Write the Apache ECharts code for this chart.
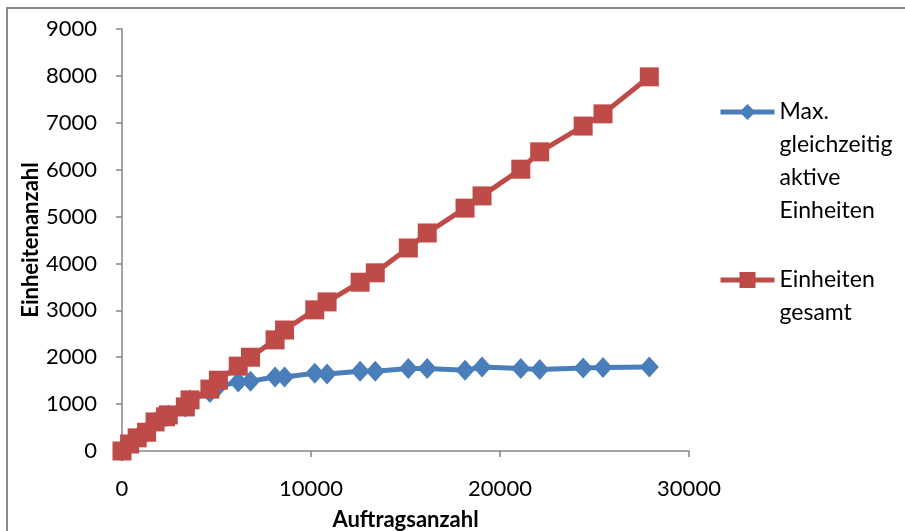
<!DOCTYPE html>
<html>
<head>
<meta charset="utf-8">
<script src="https://cdn.jsdelivr.net/npm/echarts@6/dist/echarts.min.js"></script>
<style>
  html, body { margin: 0; padding: 0; background: #fff; }
  #chart { width: 905px; height: 531px; }
</style>
</head>
<body>
<div id="chart"></div>
<script>
// Auftragsanzahl (x) je Messpunkt
var orders = [0, 400, 800, 1300, 1750, 2300, 2450, 3350, 3600, 4650, 5100, 6150, 6800, 8100, 8600,
  10200, 10850, 12600, 13400, 15150, 16150, 18150, 19050, 21100, 22100, 24400, 25450, 27900];
var activeUnits = [0, 150, 280, 400, 620, 730, 770, 940, 1090, 1250, 1380, 1470, 1490, 1580, 1580,
  1660, 1640, 1700, 1700, 1760, 1760, 1720, 1790, 1760, 1740, 1770, 1780, 1790];
var totalUnits = [0, 150, 280, 400, 620, 730, 770, 940, 1090, 1320, 1510, 1810, 2000, 2370, 2580,
  3010, 3180, 3600, 3800, 4330, 4650, 5180, 5440, 6010, 6380, 6930, 7190, 7980];
var seriesNames = ['Max. gleichzeitig aktive Einheiten', 'Einheiten gesamt'];
var legendLines = [['Max.', 'gleichzeitig', 'aktive', 'Einheiten'], ['Einheiten', 'gesamt']];

function pairs(xs, ys) {
  return xs.map(function (x, i) { return [x, ys[i]]; });
}

var chart = echarts.init(document.getElementById('chart'));
var font = 'Lato';
var axisColor = '#868686';
var lineH = 33;

// legend text is centred on the icon, so pad with empty lines on top
// to put the first text line next to the icon (like Excel)
function legendFor(i, iconY) {
  var lines = legendLines[i];
  var n = lines.length;
  var pad = [];
  for (var k = 0; k < n - 1; k++) pad.push('');
  return {
    data: [seriesNames[i]],
    orient: 'vertical',
    left: 718,
    top: iconY - (2 * n - 1) * lineH / 2,
    padding: 0,
    itemWidth: 54,
    itemHeight: 20,
    itemGap: 0,
    selectedMode: false,
    lineStyle: { width: 5 },
    formatter: function () { return pad.concat(lines).join('\n'); },
    textStyle: {
      fontFamily: font,
      fontSize: 23,
      color: '#000',
      lineHeight: lineH
    }
  };
}

function plain(v) { return String(v); }

var option = {
  animation: false,
  backgroundColor: '#fff',
  graphic: [{
    type: 'rect',
    shape: { x: 7, y: 8, width: 1000, height: 1000 },
    style: { fill: 'none', stroke: '#8a8a8a', lineWidth: 2 },
    silent: true
  }],
  grid: { left: 122, right: 216, top: 29, bottom: 80, outerBoundsMode: 'none' },
  legend: [legendFor(0, 112), legendFor(1, 280)],
  xAxis: {
    type: 'value',
    min: 0,
    max: 30000,
    interval: 10000,
    name: 'Auftragsanzahl',
    nameLocation: 'middle',
    nameGap: 58,
    nameMoveOverlap: false,
    nameTextStyle: { fontFamily: font, fontSize: 22, fontWeight: 'bold', color: '#000' },
    splitLine: { show: false },
    axisLine: { lineStyle: { color: axisColor, width: 1.5 } },
    axisTick: { show: true, length: 6, lineStyle: { color: axisColor, width: 1.5 } },
    axisLabel: { fontFamily: font, fontSize: 22, color: '#000', margin: 27, formatter: plain }
  },
  yAxis: {
    type: 'value',
    min: 0,
    max: 9000,
    interval: 1000,
    name: 'Einheitenanzahl',
    nameLocation: 'middle',
    nameGap: 80,
    nameMoveOverlap: false,
    nameTextStyle: { fontFamily: font, fontSize: 22, fontWeight: 'bold', color: '#000' },
    splitLine: { show: false },
    axisLine: { show: true, lineStyle: { color: axisColor, width: 1.5 } },
    axisTick: { show: true, length: 6, lineStyle: { color: axisColor, width: 1.5 } },
    axisLabel: { fontFamily: font, fontSize: 22, color: '#000', margin: 25, formatter: plain }
  },
  series: [{
    name: seriesNames[0],
    type: 'line',
    data: pairs(orders, activeUnits),
    symbol: 'diamond',
    symbolSize: [19, 21],
    itemStyle: { color: '#4A7EBB' },
    lineStyle: { color: '#4A7EBB', width: 5 }
  }, {
    name: seriesNames[1],
    type: 'line',
    data: pairs(orders, totalUnits),
    symbol: 'rect',
    symbolSize: 19,
    itemStyle: { color: '#BE4B48' },
    lineStyle: { color: '#BE4B48', width: 5 }
  }]
};

chart.setOption(option);
</script>
</body>
</html>
